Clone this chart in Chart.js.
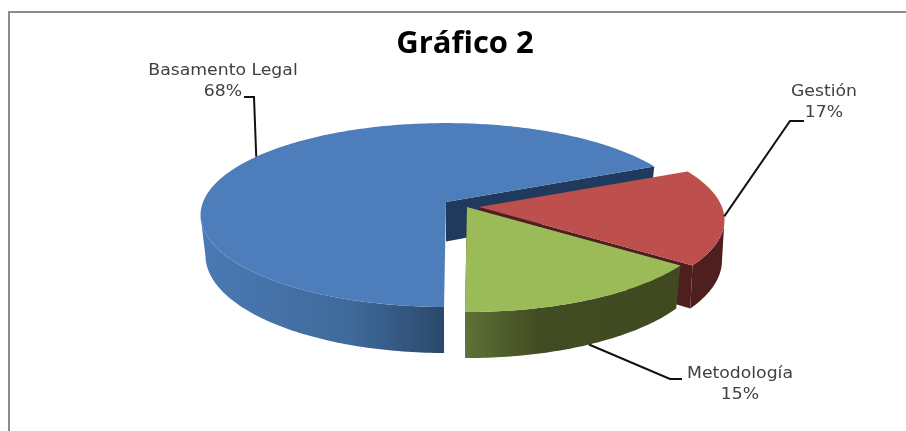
<!DOCTYPE html>
<html>
<head>
<meta charset="utf-8">
<title>Gráfico 2</title>
<script src="https://cdn.jsdelivr.net/npm/chart.js@4"></script>
<style>
  html, body { margin: 0; padding: 0; background: #fff; }
  #wrap { position: relative; width: 906px; height: 431px; }
</style>
</head>
<body>
<div id="wrap"><canvas id="chart" width="906" height="431"></canvas></div>
<script>
const categories = ["Basamento Legal", "Gestión", "Metodología"];
const values = [68, 17, 15];
const topColors = ["#4d7ebb", "#bd4f4c", "#9bbb59"];

// look of the fake 3D pie
const tilt = 0.371;        // vertical squash
const persp = 0.141;       // near side bigger than far side
const depth = 39.5;
const bottomShrink = [0.98, 0.99, 0.98];
const explode = [{ x: -19, y: -2 }, { x: 14, y: 3 }, { x: 2, y: 3 }];
const wallStops = [
  [[0, "#4a79b3"], [0.6, "#3f6a9b"], [0.85, "#33557f"], [1, "#2b4869"]],
  [[0, "#4f1e1e"], [1, "#4f1e1e"]],
  [[0, "#5f7236"], [0.35, "#414c22"], [1, "#3f4a21"]]
];
const cutColors = ["#1f3a5c", "#4f1e1e", "#414c22"];

// label placement: centre of text block, elbow of the leader line
const labelBoxes = [
  { x: 223, y: 71, elbow: [254, 97], end: [244, 97], onWall: false },
  { x: 824, y: 92, elbow: [790, 121], end: [804, 121], onWall: false },
  { x: 740, y: 374, elbow: [670, 379], end: [682, 379], onWall: true }
];
const labelStretch = 1.15;
const lineGap = 21;

function project(arc, i, angle, bottom) {
  const cx = arc.x + explode[i].x;
  const cy = arc.y + explode[i].y;
  const u = Math.cos(angle);
  const v = -Math.sin(angle);
  const w = 1 / (1 + persp * v);
  let x = arc.outerRadius * u * w;
  let y = -arc.outerRadius * tilt * v * w;
  if (bottom) {
    x *= bottomShrink[i];
    y += depth * w;
  }
  return [cx + x, cy + y];
}

function apex(arc, i, bottom) {
  return [arc.x + explode[i].x, arc.y + explode[i].y + (bottom ? depth : 0)];
}

function arcAngles(from, to) {
  const n = Math.ceil(Math.abs(to - from) * 60);
  const out = [];
  for (let k = 0; k <= n; k++) out.push(from + (to - from) * k / n);
  return out;
}

function fillPoly(ctx, pts, fill) {
  ctx.beginPath();
  pts.forEach((p, k) => k ? ctx.lineTo(p[0], p[1]) : ctx.moveTo(p[0], p[1]));
  ctx.closePath();
  ctx.fillStyle = fill;
  ctx.fill();
}

function stretchedText(ctx, text, x, y, stretch) {
  ctx.save();
  ctx.translate(x, y);
  ctx.scale(stretch, 1);
  ctx.fillText(text, 0, 0);
  ctx.restore();
}

const pie3d = {
  id: "pie3d",
  beforeDatasetsDraw(chart) {
    const ctx = chart.ctx;
    const arcs = chart.getDatasetMeta(0).data;
    arcs.forEach((arc, i) => {
      const angles = arcAngles(arc.startAngle, arc.endAngle);
      const topArc = angles.map(a => project(arc, i, a, false));
      const lowArc = angles.map(a => project(arc, i, a, true));

      // cut face on the end side of the slice
      fillPoly(ctx, [apex(arc, i, false), topArc[topArc.length - 1], lowArc[lowArc.length - 1], apex(arc, i, true)], cutColors[i]);

      // outer wall, from the silhouette point round the front
      const front = angles.filter(a => Math.sin(a) >= 0.14);
      const wallTop = front.map(a => project(arc, i, a, false));
      const wallLow = front.map(a => project(arc, i, a, true));
      const xs = wallLow.map(p => p[0]);
      const grad = ctx.createLinearGradient(Math.min(...xs), 0, Math.max(...xs), 0);
      wallStops[i].forEach(s => grad.addColorStop(s[0], s[1]));
      fillPoly(ctx, wallTop.concat(wallLow.slice().reverse()), grad);

      // top face
      fillPoly(ctx, [apex(arc, i, false)].concat(topArc), arc.options.backgroundColor);
    });
    return false;
  },
  afterDraw(chart) {
    const ctx = chart.ctx;
    const arcs = chart.getDatasetMeta(0).data;

    // frame of the chart, only top and left show in the crop
    ctx.strokeStyle = "#8c8c8c";
    ctx.lineWidth = 2;
    ctx.beginPath();
    ctx.moveTo(906, 12);
    ctx.lineTo(9, 12);
    ctx.lineTo(9, 431);
    ctx.stroke();

    arcs.forEach((arc, i) => {
      const box = labelBoxes[i];
      const mid = (arc.startAngle + arc.endAngle) / 2;
      const from = project(arc, i, mid, box.onWall);
      ctx.strokeStyle = "#111";
      ctx.lineWidth = 2;
      ctx.beginPath();
      ctx.moveTo(from[0], from[1]);
      ctx.lineTo(box.elbow[0], box.elbow[1]);
      ctx.lineTo(box.end[0], box.end[1]);
      ctx.stroke();

      ctx.fillStyle = "#404040";
      ctx.font = "15px 'DejaVu Sans'";
      ctx.textAlign = "center";
      ctx.textBaseline = "middle";
      stretchedText(ctx, categories[i], box.x, box.y, labelStretch);
      stretchedText(ctx, values[i] + "%", box.x, box.y + lineGap, labelStretch);
    });
  }
};

new Chart(document.getElementById("chart"), {
  type: "pie",
  data: {
    labels: categories,
    datasets: [{
      data: values,
      backgroundColor: topColors,
      borderWidth: 0,
      hoverOffset: 0,
      radius: 243
    }]
  },
  options: {
    responsive: false,
    animation: false,
    rotation: 180.4,
    layout: { padding: { left: 24, right: 0, top: 0, bottom: 86 } },
    plugins: {
      legend: { display: false },
      tooltip: { enabled: false },
      title: {
        display: true,
        text: "Gráfico 2",
        color: "#000",
        font: { family: "'Open Sans'", size: 31, weight: "bold" },
        padding: { top: 26, bottom: 0 }
      }
    }
  },
  plugins: [pie3d]
});
</script>
</body>
</html>
